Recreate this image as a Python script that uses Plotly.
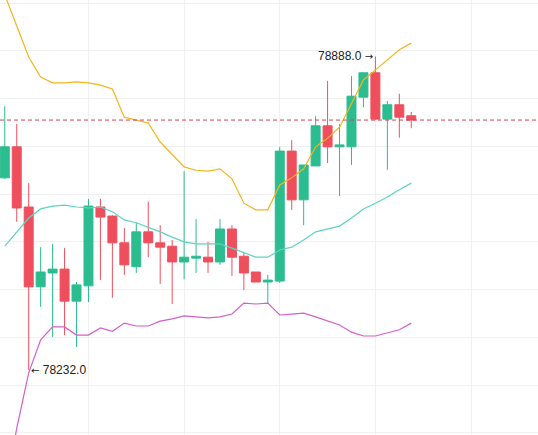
import plotly.graph_objects as go

# ── Palette ───────────────────────────────────────────────────────────────────
C = {
    "bg":     "#ffffff",
    "grid":   "#f0f0f0",
    "up":     "#2bbd8f",
    "down":   "#ef4f5d",
    "upper":  "#f5b41e",
    "mid":    "#5dd3c2",
    "lower":  "#d55fc8",
    "last":   "#d9414f",
    "ink":    "#222222",
}

_FONT = "'Liberation Sans', Arial, sans-serif"
_ARROW = "<span style=\"font-family:'DejaVu Sans';font-size:10px\">{}</span>"

# ── Data ──────────────────────────────────────────────────────────────────────
idx = list(range(35))

opens = [78634, 78699, 78573, 78406, 78435, 78443, 78376, 78408, 78573, 78554,
         78498, 78448, 78521, 78498, 78491, 78458, 78466, 78468, 78458, 78527,
         78470, 78437, 78416, 78418, 78690, 78588, 78659, 78743, 78699, 78699,
         78803, 78854, 78757, 78787, 78764]
highs = [78784, 78747, 78623, 78489, 78496, 78487, 78416, 78590, 78590, 78556,
         78529, 78540, 78584, 78535, 78504, 78648, 78548, 78500, 78548, 78535,
         78477, 78437, 78431, 78699, 78713, 78661, 78763, 78837, 78747, 78847,
         78854, 78888, 78795, 78810, 78772]
lows = [78632, 78542, 78232, 78364, 78301, 78305, 78280, 78374, 78420, 78383,
        78431, 78435, 78468, 78412, 78370, 78422, 78435, 78435, 78452, 78429,
        78399, 78416, 78370, 78414, 78567, 78535, 78659, 78665, 78596, 78661,
        78782, 78755, 78651, 78718, 78738]
closes = [78699, 78571, 78406, 78437, 78443, 78376, 78410, 78575, 78552, 78498,
          78452, 78521, 78498, 78489, 78458, 78468, 78470, 78458, 78527, 78468,
          78435, 78416, 78420, 78690, 78588, 78661, 78743, 78699, 78703, 78805,
          78854, 78757, 78787, 78761, 78755]

bb_upper = [79017, 78952, 78887, 78845, 78833, 78833, 78835, 78833, 78828, 78820,
            78761, 78755, 78749, 78709, 78682, 78657, 78650, 78648, 78653, 78632,
            78581, 78567, 78567, 78619, 78634, 78653, 78699, 78717, 78740, 78791,
            78839, 78860, 78881, 78902, 78916]
bb_mid = [78491, 78521, 78550, 78569, 78575, 78577, 78573, 78571, 78573, 78563,
          78546, 78540, 78531, 78521, 78510, 78500, 78496, 78496, 78496, 78487,
          78477, 78468, 78468, 78483, 78489, 78504, 78521, 78527, 78533, 78550,
          78569, 78581, 78594, 78609, 78623]
bb_lower = [77970, 78110, 78226, 78295, 78322, 78322, 78305, 78305, 78320, 78313,
            78330, 78324, 78324, 78334, 78339, 78345, 78343, 78341, 78343, 78349,
            78372, 78370, 78372, 78347, 78349, 78351, 78343, 78334, 78326, 78311,
            78303, 78303, 78309, 78316, 78330]

# ── Figure ────────────────────────────────────────────────────────────────────
fig = go.Figure()

for vals, color in [(bb_upper, C["upper"]), (bb_mid, C["mid"]), (bb_lower, C["lower"])]:
    fig.add_trace(go.Scatter(
        x=idx, y=vals, mode="lines",
        line=dict(color=color, width=1.2),
        hoverinfo="skip", showlegend=False,
    ))

fig.add_trace(go.Candlestick(
    x=idx, open=opens, high=highs, low=lows, close=closes,
    increasing=dict(line=dict(color=C["up"], width=1), fillcolor=C["up"]),
    decreasing=dict(line=dict(color=C["down"], width=1), fillcolor=C["down"]),
    whiskerwidth=0,
    showlegend=False,
))

# last price line
last = closes[-1]
fig.add_shape(
    type="line", xref="paper", x0=0, x1=1, yref="y", y0=last, y1=last,
    line=dict(color=C["last"], width=1, dash="4px,3px"),
)

# max / min labels
i_hi = highs.index(max(highs))
i_lo = lows.index(min(lows))
fig.add_annotation(
    x=i_hi, y=highs[i_hi], text=f"{highs[i_hi]:.1f} " + _ARROW.format("→"),
    showarrow=False, xanchor="right", yanchor="middle", xshift=0, yshift=1,
    font=dict(family=_FONT, size=12, color=C["ink"]),
)
fig.add_annotation(
    x=i_lo, y=lows[i_lo], text=_ARROW.format("←") + f" {lows[i_lo]:.1f}",
    showarrow=False, xanchor="left", yanchor="middle", xshift=0,
    font=dict(family=_FONT, size=12, color=C["ink"]),
)

fig.update_layout(
    width=538, height=435,
    margin=dict(l=0, r=0, t=0, b=0),
    paper_bgcolor=C["bg"], plot_bgcolor=C["bg"],
    font=dict(family=_FONT, color=C["ink"]),
    boxgap=0.25, boxgroupgap=0,
    showlegend=False,
    xaxis=dict(
        range=[-0.4, 44.6], rangeslider=dict(visible=False),
        showgrid=True, gridcolor=C["grid"], gridwidth=1,
        tick0=7, dtick=8, showticklabels=False, ticks="",
        zeroline=False, showline=False,
    ),
    yaxis=dict(
        range=[78095.8, 79006.3],
        showgrid=True, gridcolor=C["grid"], gridwidth=1,
        tick0=78000, dtick=100, showticklabels=False, ticks="",
        zeroline=False, showline=False,
    ),
)

fig.write_html(
    "out.html",
    config={"displayModeBar": False},
    post_script="document.body.style.margin='0';",
)
